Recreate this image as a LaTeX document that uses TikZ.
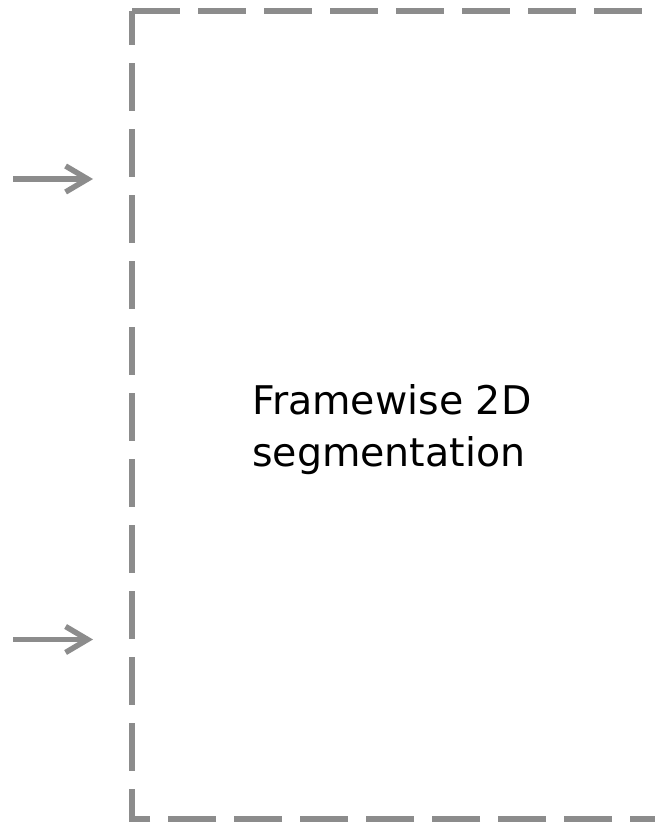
\documentclass[tikz,border=0pt]{standalone}
\usepackage{fontspec}
\setmainfont{DejaVu Sans}
\usetikzlibrary{arrows.meta}
\definecolor{linegray}{HTML}{8C8C8C}
\tikzset{
  x=1pt,y=1pt,
  framestyle/.style={draw=linegray, line width=5.5pt, dash pattern=on 48pt off 18pt},
  labelstyle/.style={font=\fontsize{39.5}{52}\selectfont, align=left, text=black, inner sep=0pt},
  inarrow/.style={draw=linegray, line width=5.5pt, line cap=butt, -{Straight Barb[length=22pt,width=26pt,line width=5.5pt]}}
}
\begin{document}
\begin{tikzpicture}
\useasboundingbox (0,0) rectangle (655,822);
\coordinate (tl) at (132,811);
\coordinate (tr) at (661,811);
\coordinate (br) at (661,3);
\coordinate (bl) at (132,3);
\begin{scope}
\clip (0,0) rectangle (655,822);
\draw[framestyle] (tl) -- (tr) -- (br) -- (bl) -- cycle;
\end{scope}
\node[labelstyle, anchor=west] (label) at (252,392.6) {Framewise 2D\\segmentation};
\coordinate (s1) at (13,643);
\coordinate (e1) at (93,643);
\coordinate (s2) at (13,182.5);
\coordinate (e2) at (93,182.5);
\draw[inarrow] (s1) -- (e1);
\draw[inarrow] (s2) -- (e2);
\end{tikzpicture}
\end{document}
